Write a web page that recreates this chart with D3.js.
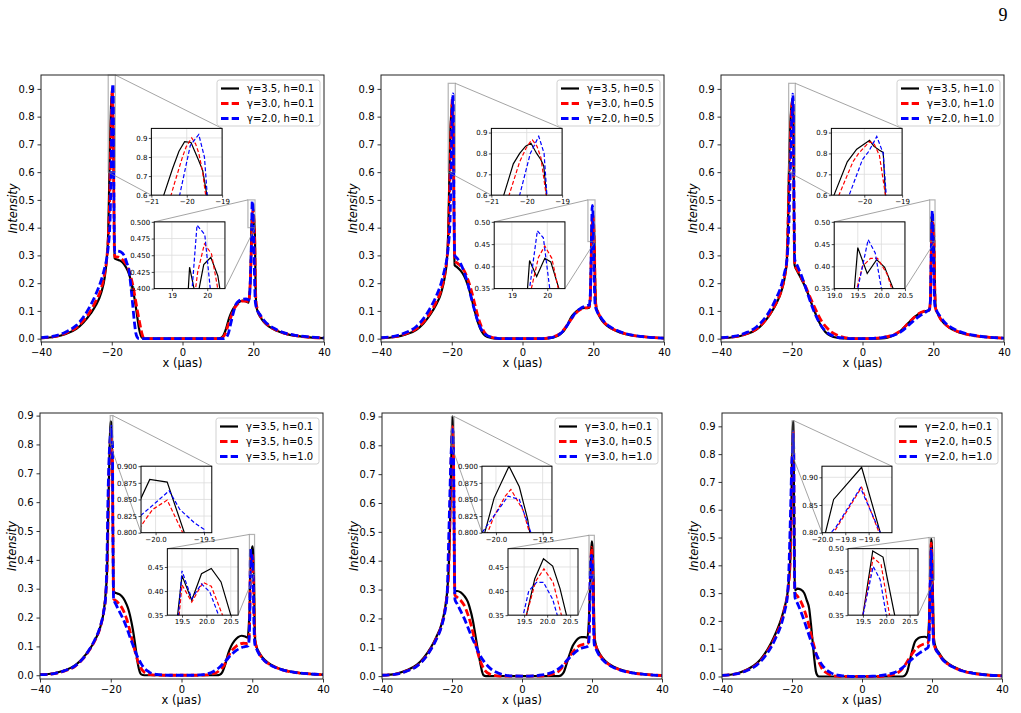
<!DOCTYPE html>
<html>
<head>
<meta charset="utf-8">
<script src="https://cdn.jsdelivr.net/npm/d3@7"></script>
<style>
  body { margin: 0; background: #fff; }
  svg text { font-family: "DejaVu Sans", sans-serif; }
</style>
</head>
<body>
<svg id="fig" width="1021" height="713"></svg>
<script>
// ---- data: intensity profiles, [x (µas), intensity] ----
const g35h01 = [[-40,0.002],[-36,0.007],[-33,0.017],[-30,0.035],[-28,0.058],[-26,0.09],[-24.5,0.12],[-23,0.165],[-22,0.22],[-21.4,0.29],
  [-21,0.38],[-20.65,0.6],[-20.4,0.74],[-20.22,0.83],[-20.06,0.88],[-19.88,0.876],[-19.68,0.79],[-19.55,0.73],[-19.43,0.6],[-19.32,0.4],[-19.2,0.29],
  [-18.5,0.285],[-17.5,0.28],[-16.5,0.268],[-15.5,0.245],[-15,0.228],[-14,0.175],[-13.5,0.14],[-12.8,0.08],[-12.3,0.037],[-11.8,0.012],[-11.4,0.003],[-10.5,0],
  [10,0],[10.8,0.002],[11.5,0.01],[12.3,0.035],[13.2,0.075],[14,0.1],[15,0.12],[16,0.132],[17,0.137],[18,0.134],[18.7,0.13],[19.1,0.19],
  [19.3,0.25],[19.5,0.432],[19.7,0.381],[19.9,0.436],[20.1,0.447],[20.3,0.419],[20.5,0.35],[20.65,0.2],[20.85,0.12],
  [21.2,0.1],[22,0.078],[23,0.06],[24.5,0.043],[26.5,0.029],[29,0.018],[32,0.01],[36,0.005],[40,0.002]];

const g30h01 = [[-40,0.003],[-36,0.008],[-33,0.02],[-30,0.04],[-28,0.065],[-26,0.1],[-24.5,0.135],[-23,0.18],[-22,0.235],[-21.4,0.29],
  [-21,0.36],[-20.6,0.5],[-20.35,0.66],[-20.12,0.8],[-20.02,0.852],[-19.86,0.9],[-19.75,0.869],[-19.66,0.82],[-19.55,0.72],[-19.43,0.55],[-19.3,0.35],[-19.15,0.295],
  [-18.5,0.295],[-17.5,0.29],[-16.5,0.278],[-15.5,0.258],[-15,0.24],[-14,0.19],[-13.4,0.148],[-12.6,0.09],[-11.9,0.044],[-11.4,0.015],[-11,0.003],[-10.3,0],
  [10.5,0],[11.2,0.003],[12,0.015],[12.8,0.045],[13.7,0.079],[14.5,0.105],[15.2,0.119],[16,0.13],[17,0.135],[18,0.135],[18.7,0.133],[19.1,0.19],
  [19.35,0.27],[19.55,0.35],[19.73,0.425],[19.92,0.467],[20.12,0.452],[20.28,0.405],[20.42,0.35],[20.6,0.2],[20.8,0.13],
  [21.2,0.105],[22,0.082],[23,0.063],[24.5,0.045],[26.5,0.031],[29,0.019],[32,0.011],[36,0.005],[40,0.002]];

const g20h01 = [[-40,0.004],[-36,0.01],[-33,0.024],[-30,0.048],[-28,0.078],[-26,0.12],[-24.5,0.16],[-23,0.21],[-22,0.255],[-21.4,0.29],
  [-21,0.33],[-20.5,0.42],[-20.2,0.6],[-19.97,0.8],[-19.9,0.86],[-19.66,0.918],[-19.5,0.8],[-19.42,0.6],[-19.3,0.4],[-19.15,0.31],
  [-18.5,0.316],[-17.5,0.313],[-16.5,0.3],[-15.8,0.275],[-15.1,0.245],[-14.6,0.19],[-14.1,0.125],[-13.6,0.06],[-13.2,0.02],[-12.8,0.005],[-12.3,0],
  [11.5,0],[12.3,0.004],[13,0.02],[13.7,0.058],[14.4,0.095],[15.1,0.124],[16,0.137],[17,0.142],[18,0.143],[18.8,0.14],[19.15,0.2],
  [19.3,0.26],[19.5,0.35],[19.71,0.495],[19.93,0.481],[20.18,0.35],[20.4,0.2],[20.6,0.13],
  [21,0.108],[22,0.085],[23,0.066],[24.5,0.048],[26.5,0.033],[29,0.02],[32,0.012],[36,0.006],[40,0.003]];

const g35h05 = [[-40,0.002],[-36,0.006],[-33,0.015],[-30,0.032],[-28,0.055],[-26,0.088],[-24.5,0.12],[-23,0.165],[-22,0.22],[-21.4,0.28],
  [-21,0.38],[-20.65,0.6],[-20.38,0.75],[-20.2,0.8],[-20.03,0.835],[-19.88,0.849],[-19.72,0.8],[-19.6,0.77],[-19.52,0.74],[-19.44,0.6],[-19.33,0.4],[-19.2,0.265],
  [-18.5,0.258],[-17.5,0.245],[-16.5,0.226],[-15.5,0.195],[-14.5,0.15],[-13.5,0.1],[-12.5,0.055],[-11.5,0.025],[-10.5,0.01],[-9,0.003],[-7,0.0005],[-5,0],
  [5,0],[7,0.001],[8.5,0.004],[10,0.01],[11,0.02],[11.8,0.03],[12.8,0.052],[13.7,0.076],[14.7,0.092],[15.6,0.102],[16.5,0.108],[17.5,0.111],[18.4,0.11],[18.9,0.112],[19.2,0.16],
  [19.35,0.25],[19.5,0.413],[19.7,0.377],[19.93,0.418],[20.1,0.41],[20.33,0.35],[20.55,0.2],[20.8,0.12],
  [21.2,0.097],[22,0.075],[23,0.057],[24.5,0.041],[26.5,0.028],[29,0.017],[32,0.01],[36,0.005],[40,0.002]];

const g35h10 = [[-40,0.002],[-36,0.006],[-33,0.016],[-30,0.033],[-28,0.056],[-26,0.09],[-24.5,0.123],[-23,0.168],[-22,0.22],[-21.4,0.28],
  [-21,0.45],[-20.8,0.6],[-20.45,0.76],[-20.2,0.82],[-20,0.845],[-19.86,0.863],[-19.75,0.835],[-19.6,0.815],[-19.5,0.805],[-19.44,0.6],[-19.33,0.4],[-19.2,0.265],
  [-18.5,0.245],[-17.5,0.22],[-16.5,0.195],[-15.5,0.165],[-14.5,0.13],[-13.5,0.097],[-12.5,0.066],[-11.5,0.042],[-10.5,0.024],[-9,0.01],[-7,0.003],[-5,0.001],[-3,0],
  [3,0],[5,0.001],[7,0.004],[9,0.013],[10.5,0.025],[11.5,0.037],[12.5,0.05],[13.5,0.064],[14.5,0.076],[15.5,0.086],[16.5,0.093],[17.5,0.098],[18.3,0.1],[18.9,0.102],[19.2,0.15],
  [19.35,0.25],[19.5,0.442],[19.7,0.384],[19.9,0.415],[20.07,0.398],[20.25,0.35],[20.45,0.2],[20.7,0.11],
  [21.2,0.092],[22,0.072],[23,0.056],[24.5,0.04],[26.5,0.027],[29,0.017],[32,0.01],[36,0.005],[40,0.002]];

const g30h05 = [[-40,0.003],[-36,0.007],[-33,0.018],[-30,0.036],[-28,0.06],[-26,0.095],[-24.5,0.13],[-23,0.175],[-22,0.23],[-21.4,0.285],
  [-21,0.35],[-20.5,0.6],[-20.2,0.76],[-20.02,0.825],[-19.9,0.855],[-19.84,0.865],[-19.71,0.834],[-19.6,0.78],[-19.45,0.6],[-19.32,0.4],[-19.15,0.28],
  [-18.5,0.273],[-17.5,0.262],[-16.5,0.245],[-15.5,0.215],[-14.5,0.175],[-13.5,0.125],[-12.5,0.075],[-11.5,0.04],[-10.5,0.018],[-9,0.006],[-7,0.001],[-5,0],
  [5,0],[7,0.002],[9,0.008],[10.5,0.017],[11.5,0.03],[12.5,0.047],[13.5,0.065],[14.5,0.083],[15.5,0.097],[16.5,0.106],[17.5,0.11],[18.3,0.112],[18.9,0.115],[19.2,0.16],
  [19.4,0.28],[19.55,0.35],[19.75,0.42],[19.93,0.446],[20.13,0.418],[20.31,0.35],[20.5,0.2],[20.75,0.12],
  [21.2,0.1],[22,0.078],[23,0.06],[24.5,0.043],[26.5,0.029],[29,0.018],[32,0.01],[36,0.005],[40,0.002]];

const g20h05 = [[-40,0.004],[-36,0.009],[-33,0.022],[-30,0.044],[-28,0.072],[-26,0.112],[-24.5,0.15],[-23,0.2],[-22,0.25],[-21.4,0.285],
  [-21,0.33],[-20.5,0.42],[-20.2,0.6],[-19.9,0.8],[-19.66,0.882],[-19.51,0.8],[-19.43,0.6],[-19.3,0.4],[-19.15,0.3],
  [-18.5,0.29],[-17.5,0.27],[-16.5,0.24],[-15.5,0.2],[-14.5,0.148],[-13.5,0.1],[-12.5,0.058],[-11.5,0.03],[-10.5,0.016],[-9,0.006],[-7,0.001],[-5,0],
  [5,0],[7,0.002],[9,0.007],[10.5,0.016],[11.5,0.028],[12.5,0.045],[13.5,0.066],[14.5,0.085],[15.5,0.1],[16.5,0.11],[17.5,0.116],[18.3,0.119],[18.9,0.122],[19.2,0.17],
  [19.35,0.25],[19.5,0.35],[19.72,0.48],[19.89,0.464],[20.07,0.35],[20.3,0.2],[20.55,0.12],
  [21,0.1],[22,0.08],[23,0.062],[24.5,0.045],[26.5,0.031],[29,0.019],[32,0.011],[36,0.005],[40,0.002]];

const g30h10 = [[-40,0.003],[-36,0.007],[-33,0.017],[-30,0.035],[-28,0.058],[-26,0.093],[-24.5,0.127],[-23,0.172],[-22,0.225],[-21.4,0.28],
  [-21,0.45],[-20.67,0.6],[-20.3,0.76],[-20.15,0.8],[-19.87,0.855],[-19.75,0.85],[-19.6,0.79],[-19.44,0.6],[-19.33,0.4],[-19.15,0.265],
  [-18.5,0.25],[-17.5,0.225],[-16.5,0.2],[-15.5,0.17],[-14.5,0.14],[-13.5,0.112],[-12.5,0.085],[-11.5,0.062],[-10.5,0.045],[-9,0.026],[-7,0.012],[-5,0.004],[-3,0.001],[0,0],
  [3,0.001],[5,0.003],[7,0.007],[9,0.015],[10.5,0.026],[11.5,0.036],[12.5,0.05],[13.5,0.063],[14.5,0.075],[15.5,0.086],[16.5,0.094],[17.5,0.099],[18.3,0.101],[18.9,0.104],[19.2,0.14],
  [19.35,0.25],[19.48,0.35],[19.6,0.4],[19.77,0.418],[19.92,0.418],[20.12,0.383],[20.22,0.35],[20.4,0.2],[20.65,0.11],
  [21.2,0.092],[22,0.073],[23,0.057],[24.5,0.041],[26.5,0.028],[29,0.017],[32,0.01],[36,0.005],[40,0.002]];

const g20h10 = [[-40,0.004],[-36,0.009],[-33,0.021],[-30,0.042],[-28,0.068],[-26,0.105],[-24.5,0.143],[-23,0.19],[-22,0.24],[-21.4,0.28],
  [-21,0.35],[-20.4,0.6],[-20.05,0.77],[-19.88,0.81],[-19.67,0.881],[-19.5,0.8],[-19.42,0.6],[-19.3,0.4],[-19.15,0.285],
  [-18.5,0.265],[-17.5,0.235],[-16.5,0.2],[-15.5,0.162],[-14.5,0.125],[-13.5,0.092],[-12.5,0.065],[-11.5,0.043],[-10.5,0.028],[-9,0.014],[-7,0.005],[-5,0.002],[-3,0],
  [3,0.001],[5,0.003],[7,0.007],[9,0.013],[10.5,0.022],[11.5,0.031],[12.5,0.042],[13.5,0.054],[14.5,0.065],[15.5,0.076],[16.5,0.085],[17.5,0.093],[18.3,0.099],[18.9,0.105],[19.2,0.14],
  [19.35,0.25],[19.5,0.35],[19.72,0.46],[19.87,0.43],[20,0.35],[20.2,0.2],[20.45,0.12],
  [21,0.1],[22,0.08],[23,0.062],[24.5,0.045],[26.5,0.031],[29,0.019],[32,0.011],[36,0.005],[40,0.002]];

// which curves go in each panel (black, red, blue)
const panelSeries = [
  [g35h01, g30h01, g20h01],
  [g35h05, g30h05, g20h05],
  [g35h10, g30h10, g20h10],
  [g35h01, g35h05, g35h10],
  [g30h01, g30h05, g30h10],
  [g20h01, g20h05, g20h10]
];
const panelLabels = [
  ["γ=3.5, h=0.1", "γ=3.0, h=0.1", "γ=2.0, h=0.1"],
  ["γ=3.5, h=0.5", "γ=3.0, h=0.5", "γ=2.0, h=0.5"],
  ["γ=3.5, h=1.0", "γ=3.0, h=1.0", "γ=2.0, h=1.0"],
  ["γ=3.5, h=0.1", "γ=3.5, h=0.5", "γ=3.5, h=1.0"],
  ["γ=3.0, h=0.1", "γ=3.0, h=0.5", "γ=3.0, h=1.0"],
  ["γ=2.0, h=0.1", "γ=2.0, h=0.5", "γ=2.0, h=1.0"]
];

// axis limits and ticks
const mainX = [-40, 40];
const mainYLim = [[-0.012, 0.95], [-0.012, 0.95], [-0.012, 0.95], [-0.013, 0.909], [-0.01, 0.912], [-0.009, 0.948]];
const mainXTicks = [-40, -20, 0, 20, 40];
const mainYTicks = [0, 0.1, 0.2, 0.3, 0.4, 0.5, 0.6, 0.7, 0.8, 0.9];

// inset around the -20 peak: [xlim, ylim, xticks, yticks, xfmt, yfmt]
const insetPeakL = [
  [[-21, -19], [0.6, 0.95], [-21, -20, -19], [0.6, 0.7, 0.8, 0.9], "d", ".1f"],
  [[-21, -19], [0.6, 0.92], [-21, -20, -19], [0.6, 0.7, 0.8, 0.9], "d", ".1f"],
  [[-20.87, -19], [0.6, 0.92], [-20, -19], [0.6, 0.7, 0.8, 0.9], "d", ".1f"],
  [[-20.15, -19.42], [0.8, 0.9], [-20, -19.5], [0.8, 0.825, 0.85, 0.875, 0.9], ".1f", ".3f"],
  [[-20.15, -19.4], [0.8, 0.9], [-20, -19.5], [0.8, 0.825, 0.85, 0.875, 0.9], ".1f", ".3f"],
  [[-20.0, -19.4], [0.8, 0.92], [-20, -19.8, -19.6], [0.8, 0.85, 0.9], ".1f", ".2f"]
];
// inset around the +20 peak
const insetPeakR = [
  [[18.5, 20.5], [0.4, 0.5], [19, 20], [0.4, 0.425, 0.45, 0.475, 0.5], "d", ".3f"],
  [[18.5, 20.5], [0.35, 0.5], [19, 20], [0.35, 0.4, 0.45, 0.5], "d", ".2f"],
  [[19.0, 20.5], [0.35, 0.5], [19, 19.5, 20, 20.5], [0.35, 0.4, 0.45, 0.5], ".1f", ".2f"],
  [[19.2, 20.65], [0.35, 0.488], [19.5, 20, 20.5], [0.35, 0.4, 0.45], ".1f", ".2f"],
  [[19.15, 20.67], [0.35, 0.488], [19.5, 20, 20.5], [0.35, 0.4, 0.45], ".1f", ".2f"],
  [[19.18, 20.68], [0.35, 0.5], [19.5, 20, 20.5], [0.35, 0.4, 0.45, 0.5], ".1f", ".2f"]
];

// ---- layout ----
const boxes = [
  {l: 41, r: 324, t: 75, b: 342},
  {l: 381, r: 664, t: 75, b: 342},
  {l: 721, r: 1004, t: 75, b: 342},
  {l: 40, r: 323, t: 413, b: 679},
  {l: 382, r: 662, t: 413, b: 679},
  {l: 722, r: 1002, t: 413, b: 679}
];
// inset placement in axes fractions [left, bottom, width, height]
const fracTop = [[0.39, 0.55, 0.25, 0.25], [0.40, 0.20, 0.25, 0.25]];
const fracBottom = [[0.357, 0.55, 0.25, 0.25], [0.45, 0.24, 0.25, 0.25]];

const colors = ["#000000", "#ff0000", "#0000ff"];
const dashMain = [null, "7.5,3.2", "7.5,3.2"];
const widthMain = [2.2, 2.8, 2.8];
const dashInset = [null, "4,2.2", "4,2.2"];

const svg = d3.select("#fig");
const defs = svg.append("defs");

svg.append("text")
  .attr("x", 1003).attr("y", 21)
  .attr("text-anchor", "middle")
  .style("font-family", "'Liberation Serif', 'DejaVu Serif', serif")
  .style("font-size", "18px")
  .text("9");

panelSeries.forEach((series, i) => drawPanel(series, i));

function drawPanel(series, i) {
    const b = boxes[i];
    const x = d3.scaleLinear().domain(mainX).range([b.l, b.r]);
    const y = d3.scaleLinear().domain(mainYLim[i]).range([b.b, b.t]);
    const g = svg.append("g");

    defs.append("clipPath").attr("id", "clipMain" + i)
        .append("rect").attr("x", b.l).attr("y", b.t).attr("width", b.r - b.l).attr("height", b.b - b.t);

    const line = d3.line().x(d => x(d[0])).y(d => y(d[1])).curve(d3.curveMonotoneX);

    series.forEach((s, k) => {
        g.append("path")
            .datum(s)
            .attr("clip-path", `url(#clipMain${i})`)
            .attr("d", line)
            .attr("fill", "none")
            .attr("stroke", colors[k])
            .attr("stroke-width", widthMain[k])
            .attr("stroke-dasharray", dashMain[k]);
    });

    // axes
    const xAxis = g.append("g")
        .attr("transform", `translate(0,${b.b})`)
        .call(d3.axisBottom(x).tickValues(mainXTicks).tickSize(3.5).tickPadding(3).tickFormat(d3.format("d")));
    const yAxis = g.append("g")
        .attr("transform", `translate(${b.l},0)`)
        .call(d3.axisLeft(y).tickValues(mainYTicks).tickSize(3.5).tickPadding(3).tickFormat(d3.format(".1f")));
    [xAxis, yAxis].forEach(a => {
        a.select(".domain").remove();
        a.selectAll("text").style("font-family", "'DejaVu Sans', sans-serif").style("font-size", "10px").attr("fill", "#000");
        a.selectAll("line").attr("stroke", "#000").attr("stroke-width", 0.8);
        a.attr("font-size", null).attr("font-family", null);
    });

    g.append("text")
        .attr("x", (b.l + b.r) / 2).attr("y", b.b + 25)
        .attr("text-anchor", "middle")
        .style("font-size", "11.5px")
        .text("x (µas)");
    g.append("text")
        .attr("transform", `translate(${b.l - 28},${(b.t + b.b) / 2}) rotate(-90)`)
        .attr("text-anchor", "middle")
        .attr("dy", "0.35em")
        .style("font-size", "11.5px")
        .style("font-style", "italic")
        .text("Intensity");

    const fr = i < 3 ? fracTop : fracBottom;
    drawInset(g, series, i, fr[0], insetPeakL[i], x, y, b);
    drawInset(g, series, i, fr[1], insetPeakR[i], x, y, b);

    g.append("rect")
        .attr("x", b.l).attr("y", b.t)
        .attr("width", b.r - b.l).attr("height", b.b - b.t)
        .attr("fill", "none").attr("stroke", "#222").attr("stroke-width", 1);

    drawLegend(g, i, b);
}

function drawInset(g, series, i, frac, spec, x, y, b) {
    const [xl, yl, xt, yt, xf, yf] = spec;
    const w = b.r - b.l, h = b.b - b.t;
    const L = b.l + frac[0] * w, W = frac[2] * w;
    const B = b.b - frac[1] * h, H = frac[3] * h, T = B - H, R = L + W;

    // zoom rectangle + connectors, picked the way matplotlib's indicate_inset_zoom does
    const rx0 = x(xl[0]), rx1 = x(xl[1]);
    const ryB = y(yl[0]), ryT = Math.max(y(yl[1]), b.t);
    g.append("rect")
        .attr("x", rx0).attr("y", ryT).attr("width", rx1 - rx0).attr("height", ryB - ryT)
        .attr("fill", "none").attr("stroke", "#808080").attr("stroke-opacity", 0.6).attr("stroke-width", 1.2);
    const cx0 = rx0 < L, cx1 = rx1 < R, cy0 = ryB > B, cy1 = ryT > T;
    const conns = [
        [cx0 !== cy0, [L, B], [rx0, ryB]],
        [cx0 === cy1, [L, T], [rx0, ryT]],
        [cx1 === cy0, [R, B], [rx1, ryB]],
        [cx1 !== cy1, [R, T], [rx1, ryT]]
    ];
    conns.filter(c => c[0]).forEach(c => {
        g.append("line")
            .attr("x1", c[1][0]).attr("y1", c[1][1]).attr("x2", c[2][0]).attr("y2", c[2][1])
            .attr("stroke", "#808080").attr("stroke-opacity", 0.8).attr("stroke-width", 0.9);
    });

    const xi = d3.scaleLinear().domain(xl).range([L, R]);
    const yi = d3.scaleLinear().domain(yl).range([B, T]);
    const gi = g.append("g");
    const cid = `clipIn${i}_${xl[0] < 0 ? "L" : "R"}`;
    defs.append("clipPath").attr("id", cid)
        .append("rect").attr("x", L).attr("y", T).attr("width", W).attr("height", H);

    gi.append("rect").attr("x", L).attr("y", T).attr("width", W).attr("height", H).attr("fill", "#fff");

    // grid
    gi.selectAll(".gx").data(xt).enter().append("line")
        .attr("x1", d => xi(d)).attr("x2", d => xi(d)).attr("y1", T).attr("y2", B)
        .attr("stroke", "#dcdcdc").attr("stroke-width", 0.8);
    gi.selectAll(".gy").data(yt).enter().append("line")
        .attr("y1", d => yi(d)).attr("y2", d => yi(d)).attr("x1", L).attr("x2", R)
        .attr("stroke", "#dcdcdc").attr("stroke-width", 0.8);

    const line = d3.line().x(d => xi(d[0])).y(d => yi(d[1]));
    series.forEach((s, k) => {
        gi.append("path")
            .datum(s)
            .attr("clip-path", `url(#${cid})`)
            .attr("d", line)
            .attr("fill", "none")
            .attr("stroke", colors[k])
            .attr("stroke-width", 1.2)
            .attr("stroke-dasharray", dashInset[k]);
    });

    const ax = gi.append("g").attr("transform", `translate(0,${B})`)
        .call(d3.axisBottom(xi).tickValues(xt).tickSize(2.5).tickPadding(1.5).tickFormat(d3.format(xf)));
    const ay = gi.append("g").attr("transform", `translate(${L},0)`)
        .call(d3.axisLeft(yi).tickValues(yt).tickSize(2.5).tickPadding(1.5).tickFormat(d3.format(yf)));
    [ax, ay].forEach(a => {
        a.select(".domain").remove();
        a.selectAll("text").style("font-family", "'DejaVu Sans', sans-serif").style("font-size", "7px").attr("fill", "#000");
        a.selectAll("line").attr("stroke", "#000").attr("stroke-width", 0.7);
        a.attr("font-size", null).attr("font-family", null);
    });

    gi.append("rect").attr("x", L).attr("y", T).attr("width", W).attr("height", H)
        .attr("fill", "none").attr("stroke", "#000").attr("stroke-width", 1);
}

function drawLegend(g, i, b) {
    const labels = panelLabels[i];
    const bw = 103, bh = 46;
    const lx = b.r - 4 - bw, ly = b.t + 5;
    const lg = g.append("g");
    lg.append("rect")
        .attr("x", lx).attr("y", ly).attr("width", bw).attr("height", bh)
        .attr("rx", 2.5)
        .attr("fill", "#fff").attr("fill-opacity", 0.85)
        .attr("stroke", "#cccccc").attr("stroke-width", 0.9);
    labels.forEach((lab, k) => {
        const yy = ly + 8.5 + k * 15;
        lg.append("line")
            .attr("x1", lx + 4).attr("x2", lx + 22).attr("y1", yy).attr("y2", yy)
            .attr("stroke", colors[k]).attr("stroke-width", widthMain[k])
            .attr("stroke-dasharray", dashMain[k]);
        lg.append("text")
            .attr("x", lx + 30).attr("y", yy).attr("dy", "0.35em")
            .style("font-size", "10px")
            .text(lab);
    });
}
</script>
</body>
</html>
